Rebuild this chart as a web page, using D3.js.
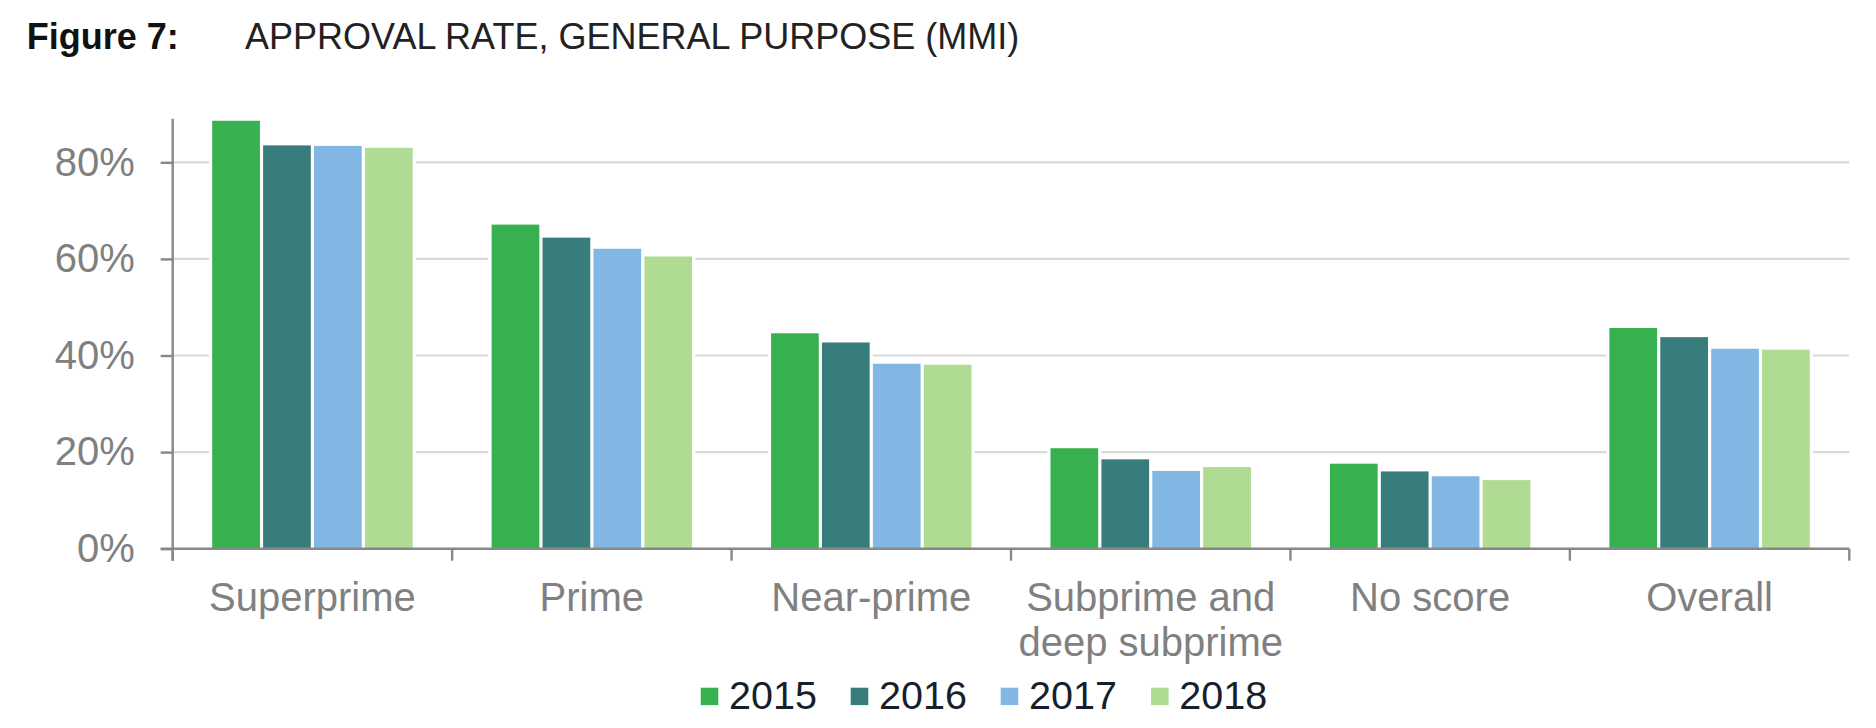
<!DOCTYPE html>
<html>
<head>
<meta charset="utf-8">
<script src="https://cdn.jsdelivr.net/npm/d3@7/dist/d3.min.js"></script>
<style>
  html, body { margin: 0; padding: 0; background: #fff; }
  svg { display: block; font-family: "Liberation Sans", Arial, Helvetica, sans-serif; }
</style>
</head>
<body>
<svg id="chart" width="1876" height="728"></svg>
<script>
// ---- data ----
const categories = ["Superprime", "Prime", "Near-prime", "Subprime and deep subprime", "No score", "Overall"];
const categoryLines = [["Superprime"], ["Prime"], ["Near-prime"], ["Subprime and", "deep subprime"], ["No score"], ["Overall"]];
const years = ["2015", "2016", "2017", "2018"];
const values2015 = [0.886, 0.671, 0.446, 0.208, 0.176, 0.457];
const values2016 = [0.835, 0.644, 0.427, 0.185, 0.160, 0.438];
const values2017 = [0.834, 0.621, 0.383, 0.161, 0.150, 0.414];
const values2018 = [0.830, 0.605, 0.381, 0.169, 0.142, 0.412];
const seriesValues = [values2015, values2016, values2017, values2018];
const yTicks = [0, 0.2, 0.4, 0.6, 0.8];
const colors = ["#37b04f", "#377d7b", "#82b7e3", "#afdb93"];

// ---- layout ----
const svg = d3.select("#chart");
const left = 172.7, right = 1849.3, y0 = 548.7;
const x0 = d3.scaleBand().domain(categories).range([left, right]).padding(0);
const groupPad = 37.9;
const x1 = d3.scaleBand().domain(years).range([groupPad, x0.bandwidth() - groupPad]).padding(0);
const y = d3.scaleLinear().domain([0, 0.89]).range([y0, y0 - 0.89 * 483]);
const gap = 3.2;

// title
svg.append("text").attr("x", 26.7).attr("y", 49).attr("font-size", 36).attr("font-weight", "bold")
  .attr("fill", "#111").text("Figure 7:");
svg.append("text").attr("x", 245).attr("y", 49).attr("font-size", 36)
  .attr("fill", "#222").text("APPROVAL RATE, GENERAL PURPOSE (MMI)");

// gridlines
svg.append("g").selectAll("line").data(yTicks.filter(d => d > 0)).join("line")
  .attr("x1", left).attr("x2", right).attr("y1", d => y(d)).attr("y2", d => y(d))
  .attr("stroke", "#d9d9d9").attr("stroke-width", 2.2);

// bars
const groups = svg.append("g").selectAll("g").data(categories).join("g")
  .attr("transform", d => `translate(${x0(d)},0)`);
const barData = (c, ci) => years.map((yr, si) => ({yr, si, v: seriesValues[si][ci]}));
// white halo separating bars / interrupting gridlines
groups.selectAll("rect.halo").data(barData).join("rect").attr("class", "halo")
  .attr("x", d => x1(d.yr) - gap / 2).attr("width", x1.bandwidth() + gap)
  .attr("y", d => y(d.v)).attr("height", d => y0 - y(d.v)).attr("fill", "#fff");
groups.selectAll("rect.bar").data(barData).join("rect").attr("class", "bar")
  .attr("x", d => x1(d.yr) + gap / 2).attr("width", x1.bandwidth() - gap)
  .attr("y", d => y(d.v)).attr("height", d => y0 - y(d.v))
  .attr("fill", d => colors[d.si]);

// y axis
const yAxis = d3.axisLeft(y).tickValues(yTicks).tickFormat(d3.format(".0%")).tickSize(12).tickPadding(26);
const gy = svg.append("g").attr("transform", `translate(${left},0)`).call(yAxis);
gy.select(".domain").remove();
gy.selectAll(".tick line").attr("stroke", "#888").attr("stroke-width", 2.4);
gy.selectAll(".tick text").attr("font-size", 40).attr("fill", "#808080")
  .attr("font-family", "Liberation Sans, Arial, sans-serif");
svg.append("line").attr("x1", left).attr("x2", left).attr("y1", y(0.89)).attr("y2", y0 + 12)
  .attr("stroke", "#888").attr("stroke-width", 2.4);

// x axis baseline & boundary ticks
svg.append("line").attr("x1", left - 12).attr("x2", right).attr("y1", y0).attr("y2", y0)
  .attr("stroke", "#888").attr("stroke-width", 2.6);
const bounds = categories.map(c => x0(c)).concat([right]);
svg.append("g").selectAll("line").data(bounds).join("line")
  .attr("x1", d => d).attr("x2", d => d).attr("y1", y0).attr("y2", y0 + 12)
  .attr("stroke", "#888").attr("stroke-width", 2.4);

// category labels
const lbl = svg.append("g").selectAll("text").data(categories).join("text")
  .attr("x", d => x0(d) + x0.bandwidth() / 2).attr("y", 611)
  .attr("text-anchor", "middle").attr("font-size", 40).attr("fill", "#808080");
lbl.selectAll("tspan").data((d, i) => categoryLines[i]).join("tspan")
  .attr("x", function() { return this.parentNode.getAttribute("x"); })
  .attr("dy", (d, i) => i === 0 ? 0 : 44.5).text(d => d);

// legend
const legendX = [700.7, 850.7, 1000.7, 1151];
const lg = svg.append("g").selectAll("g").data(years).join("g")
  .attr("transform", (d, i) => `translate(${legendX[i]},0)`);
lg.append("rect").attr("x", 0).attr("y", 687.7).attr("width", 17.6).attr("height", 17.4)
  .attr("fill", (d, i) => colors[i]);
lg.append("text").attr("x", 28.3).attr("y", 709.3).attr("font-size", 39.5).attr("fill", "#17202a")
  .text(d => d);
</script>
</body>
</html>
